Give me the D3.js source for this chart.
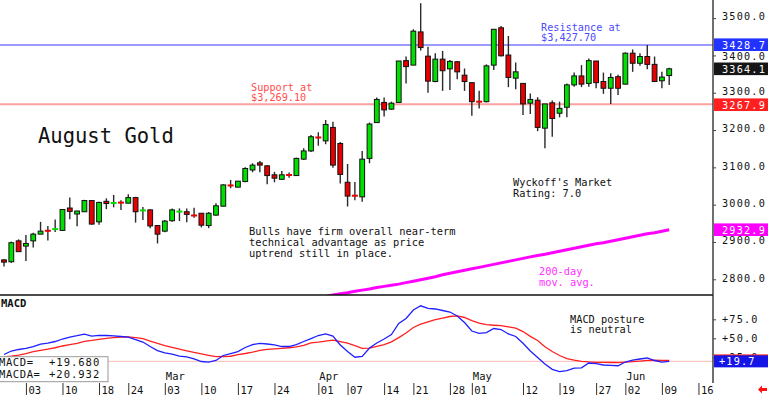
<!DOCTYPE html>
<html><head><meta charset="utf-8">
<script src="https://cdn.jsdelivr.net/npm/d3@7/dist/d3.min.js"></script>
<style>
body{margin:0;background:#fff;overflow:hidden}
svg{display:block}
text{font-family:"DejaVu Sans Mono",monospace}
</style></head>
<body><svg id="chart" width="768" height="395"></svg>
<script>
// ---------------- data ----------------
const dates = [
"2025-01-29","2025-01-30","2025-01-31",
"2025-02-03","2025-02-04","2025-02-05","2025-02-06","2025-02-07","2025-02-10","2025-02-11","2025-02-12","2025-02-13","2025-02-14",
"2025-02-18","2025-02-19","2025-02-20","2025-02-21","2025-02-24","2025-02-25","2025-02-26","2025-02-27","2025-02-28",
"2025-03-03","2025-03-04","2025-03-05","2025-03-06","2025-03-07","2025-03-10","2025-03-11","2025-03-12","2025-03-13","2025-03-14",
"2025-03-17","2025-03-18","2025-03-19","2025-03-20","2025-03-21","2025-03-24","2025-03-25","2025-03-26","2025-03-27","2025-03-28","2025-03-31",
"2025-04-01","2025-04-02","2025-04-03","2025-04-04","2025-04-07","2025-04-08","2025-04-09","2025-04-10","2025-04-11",
"2025-04-14","2025-04-15","2025-04-16","2025-04-17","2025-04-21","2025-04-22","2025-04-23","2025-04-24","2025-04-25",
"2025-04-28","2025-04-29","2025-04-30",
"2025-05-01","2025-05-02","2025-05-05","2025-05-06","2025-05-07","2025-05-08","2025-05-09","2025-05-12","2025-05-13","2025-05-14","2025-05-15","2025-05-16",
"2025-05-19","2025-05-20","2025-05-21","2025-05-22","2025-05-23","2025-05-27","2025-05-28","2025-05-29","2025-05-30",
"2025-06-02","2025-06-03","2025-06-04","2025-06-05","2025-06-06","2025-06-09","2025-06-10"];
const futureDates = ["2025-06-11","2025-06-12","2025-06-13","2025-06-16"];

const open  = [2852,2847,2903,2889,2903,2921,2931,2934,2931,2991,2975,2981,3011,2954,3009,3004,3006,3004,3019,2984,2986,2944,
2929,2957,2981,2981,2972,2977,2944,2972,2996,3052,3047,3062,3093,3112,3104,3080,3068,3080,3078,3122,3144,
3182,3171,3207,3164,3060,3025,3021,3124,3220,3274,3256,3274,3386,3374,3463,3398,3330,3390,3364,3383,3347,
3327,3277,3276,3374,3474,3401,3339,3325,3272,3280,3205,3273,3245,3261,3321,3345,3325,3385,3330,3312,3343,
3323,3406,3379,3397,3376,3332,3346];
const high  = [2854,2901,2907,2919,2925,2954,2943,2960,2988,3019,2984,3013,3012,3008,3017,3026,3012,3028,3021,2994,2988,2944,
2959,2990,2990,2990,2992,2977,2980,3004,3055,3066,3063,3100,3111,3117,3106,3088,3090,3086,3126,3151,3187,
3194,3227,3222,3168,3109,3061,3144,3220,3287,3287,3276,3385,3397,3470,3540,3423,3406,3412,3388,3385,3365,
3327,3305,3376,3470,3479,3452,3381,3325,3298,3288,3270,3279,3276,3325,3354,3374,3392,3385,3354,3352,3348,
3408,3416,3406,3428,3397,3356,3367];
const low   = [2834,2844,2874,2849,2885,2921,2904,2927,2930,2961,2942,2981,2946,2946,2988,2993,2986,3004,2952,2959,2937,2896,
2926,2954,2956,2953,2965,2939,2937,2970,2995,3044,3047,3060,3087,3087,3055,3060,3066,3072,3077,3120,3141,
3158,3162,3099,3057,2995,3012,3008,3111,3220,3236,3254,3274,3325,3374,3413,3300,3328,3305,3307,3336,3305,
3238,3258,3274,3361,3397,3315,3309,3240,3243,3197,3151,3182,3234,3234,3316,3315,3316,3312,3297,3270,3294,
3322,3356,3372,3363,3330,3312,3321];
const close = [2846,2898,2874,2896,2921,2929,2929,2935,2987,2982,2983,3011,2948,3006,3003,3005,3005,3019,2981,2985,2943,2921,
2956,2986,2982,2974,2970,2945,2977,2997,3053,3051,3063,3097,3106,3106,3078,3071,3080,3079,3124,3144,3182,
3178,3215,3106,3081,3023,3023,3122,3216,3282,3254,3272,3385,3370,3465,3421,3331,3390,3359,3384,3356,3330,
3276,3275,3372,3470,3399,3341,3356,3270,3282,3207,3270,3231,3258,3321,3345,3323,3386,3327,3312,3341,3312,
3406,3379,3397,3376,3330,3342,3364.1];

// 200-day moving average, starting at dates[ma200Start]
const ma200Start = 40;
const ma200 = [2741,2744,2748,2751,2754,2758,2761,2764,2768,2771,2774,2778,2781,2784,2787,2791,2795,2799,2803,2807,
2812,2816,2820,2824,2828,2832,2836,2840,2844,2848,2852,2856,2860,2864,2867,2871,2875,2879,2883,2887,
2891,2895,2898,2902,2906,2910,2914,2918,2922,2925,2929,2932.9];

const macd = [28.7,33.3,35.3,36.8,39.2,42.5,43.8,45.8,49.1,51.7,53.4,55.4,53.0,53.8,53.7,53.3,52.4,51.7,48.4,45.1,39.2,33.9,
30.7,29.1,26.7,25.7,22.8,19.5,18.7,20.8,27.4,30.0,32.6,37.9,41.8,43.4,42.5,41.4,39.2,39.2,41.8,45.8,49.7,
53.7,55.7,53.0,41.2,32.6,25.1,26.1,37.2,43.8,49.1,55.0,69.7,76.1,87.2,92.8,89.3,88.6,86.6,84.6,79.3,70.8,
59.6,56.6,57.6,62.9,61.6,55.7,52.4,43.4,33.3,24.7,16.2,9.2,6.3,7.6,10.7,11.1,17.5,16.8,14.9,14.3,13.9,
18.8,21.4,22.8,24.1,20.8,18.8,19.68];
const macdAvg = [25.7,26.4,27.9,30.0,32.4,34.2,35.9,37.6,39.9,41.8,43.4,46.1,47.2,48.6,49.9,50.9,51.6,52.0,50.9,49.5,46.4,43.3,
40.5,38.2,35.9,33.6,31.4,29.5,27.6,25.9,26.1,26.4,28.6,30.0,31.7,34.1,35.5,36.2,36.8,37.6,38.6,40.8,44.1,
45.0,46.2,47.6,45.7,43.8,40.5,36.8,37.0,39.5,41.8,45.4,50.9,57.0,64.2,68.6,71.7,74.6,76.7,78.7,79.6,77.4,
73.4,69.9,68.0,67.2,66.6,65.0,63.3,58.9,52.6,47.1,38.9,32.6,27.4,23.4,21.2,19.7,18.9,18.4,18.3,18.2,17.9,
18.6,19.3,20.1,21.1,21.4,20.9,20.932];

const tickDates = ["2025-02-03","2025-02-10","2025-02-18","2025-02-24","2025-03-03","2025-03-10","2025-03-17","2025-03-24",
"2025-04-01","2025-04-07","2025-04-14","2025-04-21","2025-04-28","2025-05-01","2025-05-12","2025-05-19","2025-05-27",
"2025-06-02","2025-06-09","2025-06-16"];
const monthDates = ["2025-03-03","2025-04-01","2025-05-01","2025-06-02"];
const monthLabels = ["Mar","Apr","May","Jun"];
const priceTicks = [2800,2900,3000,3100,3200,3300,3400,3500];
const macdTicks = [25,50,75];
const resistance = 3427.70, support = 3269.10;
const priceMarkers = [3428.7, 3364.1, 3267.9, 2932.9];
const macdMarkers = [20.932, 19.68];

// ---------------- layout ----------------
const W = 768, H = 395, axisX = 713;
const priceTop = 0, priceBot = 295, macdTop = 295, macdBot = 383;
const svg = d3.select("#chart");

const allDates = dates.concat(futureDates);
const x = d3.scalePoint().domain(allDates).range([4, 4 + 7.31 * (allDates.length - 1)]);
const y = d3.scaleLinear().domain([2757.9, 3548.5]).range([priceBot, priceTop]);
const ym = d3.scaleLinear().domain([-8.8, 107]).range([macdBot, macdTop]);

const defs = svg.append("defs");
defs.append("clipPath").attr("id","cp").append("rect").attr("x",0).attr("y",priceTop).attr("width",axisX).attr("height",priceBot-priceTop);
defs.append("clipPath").attr("id","cm").append("rect").attr("x",0).attr("y",macdTop).attr("width",axisX).attr("height",macdBot-macdTop);

svg.append("rect").attr("width",W).attr("height",H).attr("fill","#fff");

// ---------- price panel ----------
const gp = svg.append("g").attr("clip-path","url(#cp)");
gp.append("line").attr("x1",0).attr("x2",axisX).attr("y1",y(resistance)).attr("y2",y(resistance))
  .attr("stroke","#9a9aff").attr("stroke-width",2);
gp.append("line").attr("x1",0).attr("x2",axisX).attr("y1",y(support)).attr("y2",y(support))
  .attr("stroke","#ffa0a0").attr("stroke-width",2);

// 200-day MA
const maData = ma200.map((v,k)=>({d:dates[ma200Start+k], v}));
gp.append("path").datum(maData)
  .attr("d", d3.line().x(d=>x(d.d)).y(d=>y(d.v)))
  .attr("fill","none").attr("stroke","#ff00ff").attr("stroke-width",3);

// candles
const candles = dates.map((d,i)=>({d,o:open[i],h:high[i],l:low[i],c:close[i]}));
const cg = gp.selectAll("g.c").data(candles).enter().append("g");
cg.append("line").attr("x1",d=>x(d.d)).attr("x2",d=>x(d.d)).attr("y1",d=>y(d.h)).attr("y2",d=>y(d.l))
  .attr("stroke","#2a2a2a").attr("stroke-width",1.4);
cg.each(function(d){
  const g = d3.select(this);
  const up = d.c >= d.o;
  const col = up ? "#00e000" : "#e80000";
  const top = y(Math.max(d.o,d.c)), bot = y(Math.min(d.o,d.c));
  if (bot - top < 1.6) {
    g.append("rect").attr("x",x(d.d)-3).attr("y",(top+bot)/2-1).attr("width",6).attr("height",2).attr("fill",col);
  } else {
    g.append("rect").attr("x",x(d.d)-2.4).attr("y",top).attr("width",4.8).attr("height",bot-top)
      .attr("fill",col).attr("stroke","#111").attr("stroke-width",1);
  }
});

// panel bottom line
svg.append("line").attr("x1",0).attr("x2",axisX).attr("y1",priceBot).attr("y2",priceBot).attr("stroke","#111").attr("stroke-width",1.5);

// ---------- annotations ----------
function block(lines, x0, y0, dy, size, color){
  const t = svg.append("text").attr("x",x0).attr("y",y0).attr("font-size",size).attr("fill",color);
  lines.forEach((s,k)=>t.append("tspan").attr("x",x0).attr("y",y0+k*dy).text(s));
  return t;
}
block(["August Gold"], 38, 142.7, 0, "20.5px", "#111");
block(["Support at","$3,269.10"], 251, 90.7, 10, "10.2px", "#ff4d4d");
block(["Resistance at","$3,427.70"], 541, 30.7, 10, "10.2px", "#4b4bff");
block(["Wyckoff's Market","Rating: 7.0"], 513, 186, 10.7, "10.3px", "#111");
block(["Bulls have firm overall near-term","technical advantage as price","uptrend still in place."], 249, 235, 11, "10.4px", "#111");
block(["200-day","mov. avg."], 539, 275, 11, "10.3px", "#ff30ff");
block(["MACD posture","is neutral"], 570, 322.7, 10.5, "10.3px", "#111");

// ---------- MACD panel ----------
const gm = svg.append("g").attr("clip-path","url(#cm)");
gm.append("line").attr("x1",0).attr("x2",axisX).attr("y1",ym(macd[macd.length-1])).attr("y2",ym(macd[macd.length-1]))
  .attr("stroke","#ffb8b8").attr("stroke-width",1);
const mline = d3.line().x((v,i)=>x(dates[i])).y(v=>ym(v));
gm.append("path").datum(macdAvg).attr("d",mline).attr("fill","none").attr("stroke","#ff2020").attr("stroke-width",1.3);
gm.append("path").datum(macd).attr("d",mline).attr("fill","none").attr("stroke","#1f1fff").attr("stroke-width",1.3);

svg.append("text").attr("x",1).attr("y",307).attr("font-family","'Liberation Sans',Arial,sans-serif")
  .attr("font-weight","bold").attr("font-size","10.5px").attr("fill","#111").text("MACD");

// legend box
svg.append("rect").attr("x",-1).attr("y",356.7).attr("width",109).attr("height",25).attr("fill","#fff").attr("stroke","#999").attr("stroke-width",1);
const lg = [["MACD=", "+" + macd[macd.length-1].toFixed(3)],["MACDA=", "+" + macdAvg[macdAvg.length-1].toFixed(3)]];
lg.forEach((r,k)=>{
  svg.append("text").attr("x",-1).attr("y",366+k*12.3).attr("font-size","10.5px").attr("letter-spacing","0.6px").attr("fill","#111").text(r[0]);
  svg.append("text").attr("x",49).attr("y",366+k*12.3).attr("font-size","10.5px").attr("letter-spacing","1px").attr("fill","#111").text(r[1]);
});

// ---------- date axis ----------
const xa = svg.append("g").attr("transform",`translate(0,${macdBot})`)
  .call(d3.axisBottom(x).tickValues(tickDates).tickSize(12).tickFormat(d=>d.slice(8)));
xa.select(".domain").remove();
xa.selectAll(".tick line").attr("stroke","#333");
xa.selectAll(".tick text").attr("text-anchor","start").attr("x",2).attr("y",0).attr("dy","10.6px")
  .attr("font-family","'DejaVu Sans Mono',monospace").attr("font-size","10.5px").attr("fill","#111");

svg.selectAll("text.month").data(monthDates).enter().append("text").attr("class","month")
  .attr("x",d=>x(d)+1).attr("y",380).attr("font-size","10.5px").attr("fill","#111")
  .text((d,i)=>monthLabels[i]);

// ---------- right axes ----------
svg.append("line").attr("x1",axisX).attr("x2",axisX).attr("y1",0).attr("y2",macdBot).attr("stroke","#222").attr("stroke-width",1.3);

const pa = svg.append("g").attr("transform",`translate(${axisX},-1.4)`)
  .call(d3.axisRight(y).tickValues(priceTicks).tickSize(3).tickPadding(6).tickFormat(d=>d.toFixed(1)));
pa.select(".domain").remove();
pa.selectAll("text").attr("font-family","'DejaVu Sans Mono',monospace").attr("font-size","10.2px")
  .attr("letter-spacing","1.2px").attr("fill","#111");
pa.selectAll(".tick line").attr("stroke","#444").attr("transform","translate(0,1.4)");
// nudge the label that sits just below the resistance value box
pa.selectAll(".tick").filter(d=>d===3400).select("text").attr("dy","0.55em");

const ma = svg.append("g").attr("transform",`translate(${axisX},0)`)
  .call(d3.axisRight(ym).tickValues(macdTicks).tickSize(3).tickPadding(6).tickFormat(d=>"+"+d.toFixed(1)));
ma.select(".domain").remove();
ma.selectAll("text").attr("font-family","'DejaVu Sans Mono',monospace").attr("font-size","10.2px")
  .attr("letter-spacing","1.2px").attr("fill","#111");
ma.selectAll(".tick line").attr("stroke","#444");

// value boxes
const boxCols = ["#2233ff","#161616","#ff1f1f","#ff00ff"];
priceMarkers.forEach((v,k)=>{
  svg.append("rect").attr("x",axisX+1).attr("y",y(v)-6.3).attr("width",W-axisX).attr("height",12.6).attr("fill",boxCols[k]);
  svg.append("text").attr("x",722).attr("y",y(v)+3.8).attr("font-size","10.2px").attr("letter-spacing","1.2px")
    .attr("fill","#fff").text(v.toFixed(1));
});
const mCols = ["#ff1f1f","#1515e8"];
macdMarkers.forEach((v,k)=>{
  svg.append("rect").attr("x",axisX+1).attr("y",ym(v)-6).attr("width",W-axisX).attr("height",12).attr("fill",mCols[k]);
});
svg.append("text").attr("x",719).attr("y",ym(macdMarkers[1])+3.8).attr("font-size","10.2px").attr("letter-spacing","1.2px")
  .attr("fill","#fff").text("+" + macdMarkers[1].toFixed(1));

// small red arrow bottom-right
svg.append("path").attr("d","M758,389.5 L762,385.5 L762,388 L767,388 L767,391 L762,391 L762,393.5 Z").attr("fill","#ff1010");
</script></body></html>
